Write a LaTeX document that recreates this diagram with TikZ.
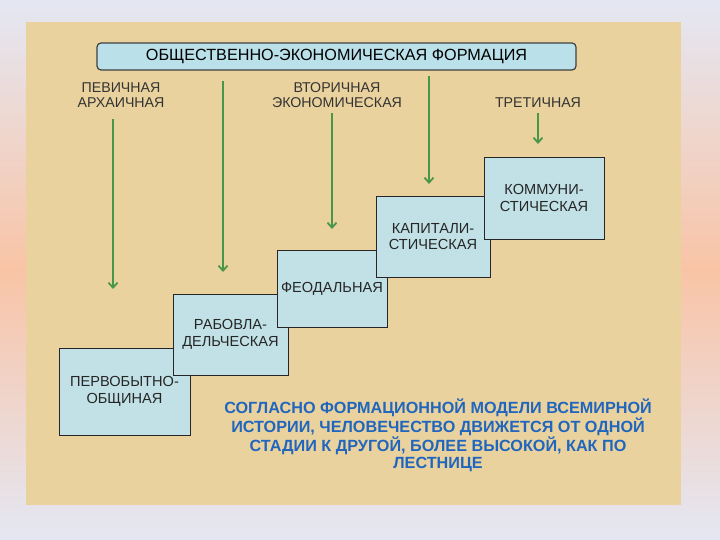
\documentclass[tikz,border=0pt]{standalone}
\usepackage{fontspec}
\setmainfont{Liberation Sans}
\usetikzlibrary{arrows.meta,positioning}
\definecolor{softlav}{RGB}{228,231,243}
\definecolor{softpeach}{RGB}{249,196,166}
\definecolor{paneltan}{RGB}{233,210,158}
\definecolor{boxblue}{RGB}{193,225,230}
\definecolor{titleblue}{RGB}{186,224,234}
\definecolor{arrowgreen}{RGB}{72,150,72}
\definecolor{noteblue}{RGB}{32,102,190}

\begin{document}
\begin{tikzpicture}[x=1pt, y=-1pt,
    stagebox/.style={draw=black!85, line width=0.8pt, fill=boxblue, inner sep=0pt, align=center,
      text=black!85, font=\fontsize{14.6}{16.5}\selectfont},
    levellabel/.style={align=center, text=black!80, font=\fontsize{14.2}{15}\selectfont},
    godown/.style={draw=arrowgreen, line width=1.8pt, -{Straight Barb[length=5pt,width=9pt]}}]
    \useasboundingbox (0,0) rectangle (720,540);
    % background and panel
    \shade[top color=softlav, bottom color=softlav, middle color=softpeach] (0,0) rectangle (720,540);
    \fill[paneltan] (26,22) rectangle (681,505);

    \node[draw=black!75, line width=1.2pt, rounded corners=4pt, fill=titleblue, minimum width=479pt,
      minimum height=27pt, inner sep=0pt, font=\fontsize{16.2}{18}\selectfont] (title) at (336.5,56.5)
      {ОБЩЕСТВЕННО-ЭКОНОМИЧЕСКАЯ ФОРМАЦИЯ};

    % levels
    \node[levellabel] (primary) at (121,95.5) {ПЕВИЧНАЯ\\АРХАИЧНАЯ};
    \node[levellabel] (secondary) at (337,95.5) {ВТОРИЧНАЯ\\ЭКОНОМИЧЕСКАЯ};
    \node[levellabel] (tertiary) at (538,103) {ТРЕТИЧНАЯ};

    % stages, each one over the previous
    \node[stagebox, minimum width=131pt, minimum height=87pt] (primitive) at (124.5,391.5) {ПЕРВОБЫТНО-\\ОБЩИНАЯ};
    \node[stagebox, minimum width=115pt, minimum height=81pt] (slave) at (230.5,334.5) {РАБОВЛА-\\ДЕЛЬЧЕСКАЯ};
    \node[stagebox, minimum width=110pt, minimum height=77pt] (feudal) at (332,288.5) {ФЕОДАЛЬНАЯ};
    \node[stagebox, minimum width=114pt, minimum height=81pt] (capital) at (433,236.5) {КАПИТАЛИ-\\СТИЧЕСКАЯ};
    \node[stagebox, minimum width=120pt, minimum height=82pt] (commune) at (544,198) {КОММУНИ-\\СТИЧЕСКАЯ};

    % arrows
    \coordinate (a1s) at (113,119);  \coordinate (a1e) at (113,289);
    \coordinate (a2s) at (223,81);   \coordinate (a2e) at (223,272);
    \coordinate (a3s) at (332,113);  \coordinate (a3e) at (332,229);
    \coordinate (a4s) at (429,76);   \coordinate (a4e) at (429,184);
    \coordinate (a5s) at (538,113);  \coordinate (a5e) at (538,144);
    \foreach \i in {1,...,5}
      \draw[godown] (a\i s) -- (a\i e);

    \node[align=center, text=noteblue, font=\bfseries\fontsize{16.2}{17.7}\selectfont] (note) at (438,435.5)
      {СОГЛАСНО ФОРМАЦИОННОЙ МОДЕЛИ ВСЕМИРНОЙ\\ИСТОРИИ, ЧЕЛОВЕЧЕСТВО ДВИЖЕТСЯ ОТ ОДНОЙ\\СТАДИИ К ДРУГОЙ, БОЛЕЕ ВЫСОКОЙ, КАК ПО\\ЛЕСТНИЦЕ};
\end{tikzpicture}
\end{document}
